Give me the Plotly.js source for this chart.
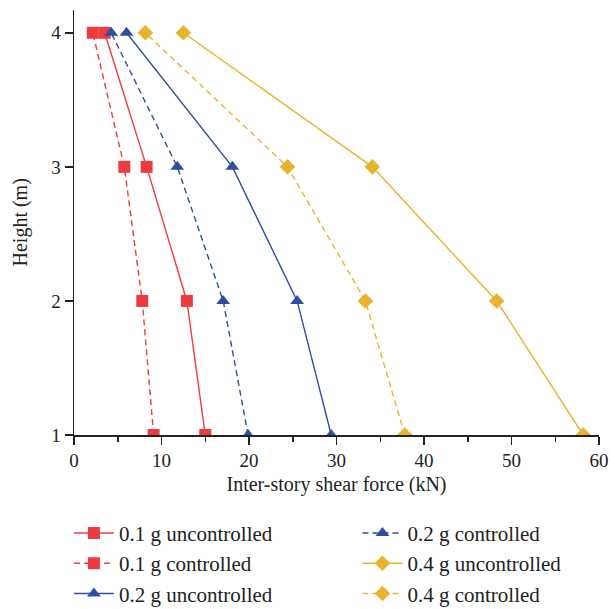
<!DOCTYPE html>
<html>
<head>
<meta charset="utf-8">
<script src="https://cdn.plot.ly/plotly-3.0.1.min.js"></script>
<style>html,body{margin:0;padding:0;background:#fff;}#chart{width:610px;height:609px;}</style>
</head>
<body>
<div id="chart"></div>
<script>
// Heights (m)
const heights = [1, 2, 3, 4];
// Inter-story shear force (kN)
const unc01 = [15.0, 12.9, 8.3, 3.5];
const ctl01 = [9.1, 7.8, 5.75, 2.15];
const unc02 = [29.4, 25.5, 18.1, 6.0];
const ctl02 = [19.9, 17.05, 11.8, 4.25];
const unc04 = [58.2, 48.3, 34.1, 12.5];
const ctl04 = [37.8, 33.3, 24.4, 8.15];
const seriesNames = ['0.1 g uncontrolled', '0.1 g controlled', '0.2 g uncontrolled',
                     '0.2 g controlled', '0.4 g uncontrolled', '0.4 g controlled'];
const xTicks = [0, 10, 20, 30, 40, 50, 60];
const yTicks = [1, 2, 3, 4];
const xTitle = 'Inter-story shear force (kN)';
const yTitle = 'Height (m)';

const RED = '#EE3B40', BLUE = '#2F4EA1', GOLD = '#E8B32E';
const FONT = 'Liberation Serif, Times New Roman, serif';

function tr(x, name, color, symbol, dash, legend, group) {
  return {
    x: x, y: heights, name: name, type: 'scatter', mode: 'lines+markers',
    line: {color: color, width: 1.4, dash: dash},
    marker: {color: color, symbol: symbol, size: 12},
    legend: legend, legendgroup: group, cliponaxis: true
  };
}
const DASH = '6px,4px';
const data = [
  tr(unc01, seriesNames[0], RED, 'square', 'solid', 'legend', 'a'),
  tr(ctl01, seriesNames[1], RED, 'square', DASH, 'legend', 'b'),
  tr(unc02, seriesNames[2], BLUE, 'triangle-up', 'solid', 'legend', 'c'),
  tr(ctl02, seriesNames[3], BLUE, 'triangle-up', DASH, 'legend2', 'd'),
  tr(unc04, seriesNames[4], GOLD, 'diamond', 'solid', 'legend2', 'e'),
  tr(ctl04, seriesNames[5], GOLD, 'diamond', DASH, 'legend2', 'f')
];

const legendCommon = {
  orientation: 'v', xref: 'container', yref: 'container', yanchor: 'top', xanchor: 'left',
  font: {family: FONT, size: 21, color: '#222'}, bgcolor: 'rgba(0,0,0,0)',
  tracegroupgap: 9, traceorder: 'normal', itemwidth: 40
};

const layout = {
  width: 610, height: 609,
  margin: {l: 74, r: 11, t: 10, b: 174, autoexpand: false},
  paper_bgcolor: '#fff', plot_bgcolor: '#fff',
  font: {family: FONT, size: 19, color: '#222'},
  showlegend: true,
  xaxis: {
    range: [0, 60], tickvals: xTicks, ticktext: xTicks.map(String), tickangle: 0,
    automargin: true,
    showgrid: false, zeroline: false, showline: true, linecolor: '#222', linewidth: 1.5,
    ticks: 'outside', ticklen: 8, tickwidth: 1.5, tickcolor: '#222',
    minor: {dtick: 5, ticks: 'outside', ticklen: 5, tickwidth: 1.5, tickcolor: '#222'},
    tickfont: {family: FONT, size: 19, color: '#222'},
    title: {text: xTitle, font: {family: FONT, size: 20, color: '#222'}, standoff: 6}
  },
  yaxis: {
    range: [1, 4.17], tickvals: yTicks, ticktext: yTicks.map(String),
    automargin: false,
    showgrid: false, zeroline: false, showline: true, linecolor: '#222', linewidth: 1.5,
    ticks: 'outside', ticklen: 8, tickwidth: 1.5, tickcolor: '#222',
    tickfont: {family: FONT, size: 19, color: '#222'}
  },
  annotations: [{
    text: yTitle, textangle: -90, xref: 'paper', yref: 'paper',
    x: (20 - 74) / 525, y: 0.5, xanchor: 'center', yanchor: 'middle', showarrow: false,
    font: {family: FONT, size: 20, color: '#222'}
  }],
  legend: Object.assign({}, legendCommon, {x: 0.113, y: 0.158}),
  legend2: Object.assign({}, legendCommon, {x: 0.586, y: 0.158})
};

Plotly.newPlot('chart', data, layout, {displayModeBar: false, staticPlot: true});
</script>
</body>
</html>
